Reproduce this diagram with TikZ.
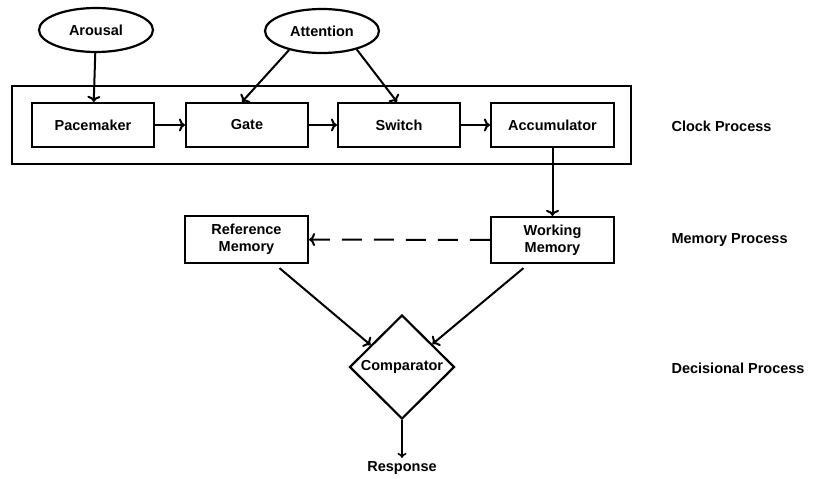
\documentclass[tikz,border=0pt]{standalone}
\usepackage{fontspec}
\setmainfont{Liberation Sans}
\usetikzlibrary{shapes.geometric,arrows.meta}

\tikzset{
  bloco/.style={draw, line width=2.2pt, minimum width=122, minimum height=44, align=center, inner sep=0},
  oval/.style={draw, ellipse, line width=2.2pt, minimum width=114, minimum height=44, inner sep=0},
  seta/.style={line width=2pt, -{To[length=6pt,width=13pt]}},
  rotulo/.style={anchor=west}
}

\begin{document}
\begin{tikzpicture}[x=1pt,y=-1pt, font=\fontsize{14.5}{17}\selectfont\bfseries]
			\useasboundingbox (0,0) rectangle (814,479);

			%Entradas
			\node[oval] (arousal) at (96,30) {Arousal};
			\node[oval] (attention) at (322,31) {Attention};

			%Relogio
			\node[draw, line width=2.2pt, minimum width=619, minimum height=78] (clock) at (321.5,125) {};
			\node[bloco] (pacemaker) at (93,125) {Pacemaker};
			\node[bloco] (gate) at (247,125) {Gate};
			\node[bloco] (switch) at (399,125) {Switch};
			\node[bloco, minimum width=123] (accumulator) at (552.5,125) {Accumulator};

			%Memoria
			\node[bloco, minimum width=123, minimum height=47] (refmem) at (246.5,239.5) {Reference\\Memory};
			\node[bloco, minimum width=123, minimum height=46] (workmem) at (552.5,240) {Working\\Memory};

			%Decisao
			\node[draw, diamond, line width=2.2pt, minimum width=105, minimum height=104, inner sep=1pt] (comparator) at (402,367) {Comparator};
			\node (response) at (402,468) {Response};

			%Rotulos dos niveis
			\node[rotulo] (clocklabel) at (668,126) {Clock Process};
			\node[rotulo] (memlabel) at (668,240) {Memory Process};
			\node[rotulo] (declabel) at (668,368) {Decisional Process};

			%Setas
			\draw[seta] (arousal) -- (pacemaker);
			\draw[seta] (attention.210) -- ([xshift=-5]gate.north);
			\draw[seta] (attention.-28) -- ([xshift=-2]switch.north);
			\draw[seta] (pacemaker) -- (gate);
			\draw[seta] (gate) -- (switch);
			\draw[seta] (switch) -- (accumulator);
			\draw[seta] (accumulator) -- (workmem);
			\draw[seta, dash pattern=on 20pt off 12pt] (workmem) -- (refmem);
			\draw[seta] ([shift={(33,4)}]refmem.south) -- (comparator.145);
			\draw[seta] ([shift={(-29,4)}]workmem.south) -- (comparator.37);
			\draw[line width=1.6pt, -{To[length=5pt,width=9pt]}] (comparator) -- (response);

		\end{tikzpicture}
\end{document}
